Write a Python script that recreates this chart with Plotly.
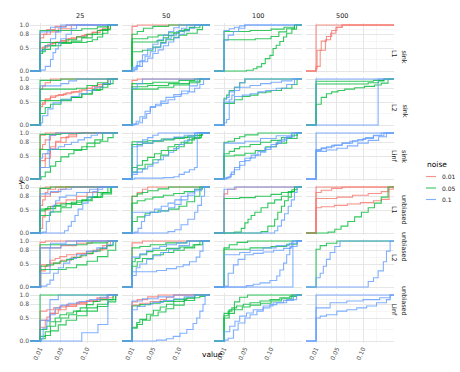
import plotly.graph_objects as go

# ---------------- data ----------------
NOISE_LEVELS = ["0.01", "0.05", "0.1"]
NOISE_COLORS = ["#F8766D", "#00BA38", "#619CFF"]
SIZES = ["25", "50", "100", "500"]
METHODS = ["sink", "unbiased"]
NORMS = ["L1", "L2", "Linf"]
X_BREAKS = [0.01, 0.05, 0.10]
X_LABELS = ["0.01", "0.05", "0.10"]
X_MINOR = [0.03, 0.075, 0.125]
Y_BREAKS = [0.0, 0.5, 0.8, 1.0]
Y_LABELS = ["0.0", "0.5", "0.8", "1.0"]
Y_MINOR = [0.25, 0.65, 0.9]

# each line: (noise, step x values, ECDF value after each step)
sink_L1_25 = [
    ("0.01", [.01, .023, .039, .06], [.80, .90, .97, 1]),
    ("0.01", [.01, .017, .03, .045, .07], [.72, .80, .85, .92, 1]),
    ("0.01", [.01, .02, .03, .04, .05, .06, .07, .08, .09, .10, .11, .12, .13, .145], [.50, .55, .60, .63, .66, .70, .72, .75, .77, .80, .84, .88, .93, 1]),
    ("0.01", [.01, .015, .025, .035, .05, .065, .08, .095, .11, .125, .14], [.45, .52, .58, .62, .65, .70, .74, .79, .84, .90, 1]),
    ("0.05", [.01, .09, .12, .14], [.88, .92, .96, 1]),
    ("0.05", [.01, .02, .04, .06, .08, .10, .12, .14], [.42, .55, .62, .68, .74, .80, .88, 1]),
    ("0.05", [.01, .015, .03, .05, .07, .09, .11, .13, .145], [.38, .47, .55, .60, .65, .72, .80, .90, 1]),
    ("0.05", [.01, .10, .11, .12, .13, .14], [.62, .64, .68, .74, .82, 1]),
    ("0.1", [.012, .02, .03, .035, .04, .045, .05, .06, .07, .08], [.02, .10, .25, .40, .48, .60, .70, .80, .92, 1]),
    ("0.1", [.01, .02, .03, .04, .05, .06], [.45, .55, .70, .85, .95, 1]),
    ("0.1", [.01, .03, .05], [.85, .95, 1]),
]
sink_L1_50 = [
    ("0.01", [.01, .02], [.97, 1]),
    ("0.05", [.01, .02, .032, .05, .08], [.80, .86, .93, .97, 1]),
    ("0.05", [.01, .058, .07, .08, .09, .10, .11, .12, .13], [.63, .66, .72, .77, .82, .86, .90, .95, 1]),
    ("0.05", [.01, .03, .05, .065, .075, .09, .10, .115, .135, .145], [.42, .45, .52, .62, .68, .73, .78, .82, .90, 1]),
    ("0.05", [.01, .04, .06, .08, .10, .12, .14], [.70, .74, .78, .83, .88, .94, 1]),
    ("0.1", [.015, .02, .03, .04, .05, .06, .07, .08, .09, .10, .11, .12, .13], [.03, .10, .20, .28, .38, .46, .55, .63, .72, .80, .87, .93, 1]),
    ("0.1", [.012, .018, .025, .035, .045, .055, .065, .075, .085, .095, .105, .115], [.05, .12, .22, .32, .42, .52, .60, .70, .78, .86, .93, 1]),
    ("0.1", [.01, .02, .03, .04, .05, .06, .07, .08, .09, .10], [.08, .20, .35, .48, .58, .68, .78, .86, .94, 1]),
]
sink_L1_100 = [
    ("0.05", [.01, .06, .10, .125, .145], [.86, .88, .91, .95, 1]),
    ("0.05", [.01, .07, .10, .115, .13, .145], [.68, .70, .75, .85, .92, 1]),
    ("0.05", [.053, .066, .073, .082, .089, .098, .104, .11, .117, .124, .13, .14, .149], [.015, .05, .09, .16, .27, .34, .49, .56, .64, .74, .82, .91, 1]),
    ("0.1", [.01, .02, .03, .04, .05], [.88, .92, .95, .98, 1]),
    ("0.1", [.01, .018, .028, .038, .05], [.67, .78, .86, .93, 1]),
]
sink_L1_500 = [
    ("0.01", [.01], [1]),
    ("0.01", [.01, .012, .02, .03, .04, .05, .06], [.05, .45, .65, .75, .88, .95, 1]),
    ("0.01", [.01, .018, .028, .038, .048, .06], [.10, .45, .68, .82, .95, 1]),
]
sink_L2_25 = [
    ("0.01", [.01, .015, .02, .03], [.78, .85, .92, 1]),
    ("0.01", [.01, .015, .02, .03, .045, .06, .075, .09, .10, .11, .13, .145], [.40, .48, .57, .63, .66, .70, .72, .76, .80, .84, .90, 1]),
    ("0.01", [.01, .02, .03, .04, .055, .07, .085, .10, .12, .14], [.45, .55, .60, .64, .68, .72, .76, .80, .88, 1]),
    ("0.05", [.01, .05], [.97, 1]),
    ("0.05", [.01, .08, .10, .12, .14], [.78, .80, .86, .92, 1]),
    ("0.05", [.01, .05, .07, .09, .11, .125, .14, .15], [.53, .56, .60, .67, .75, .82, .90, 1]),
    ("0.05", [.01, .02, .03, .05, .07, .09, .11, .13, .145], [.25, .38, .45, .53, .60, .68, .77, .88, 1]),
    ("0.1", [.012, .015, .025, .035, .05, .07, .085, .10, .115, .13, .145], [.05, .20, .35, .48, .55, .62, .68, .75, .82, .90, 1]),
    ("0.1", [.01, .05, .065, .08], [.85, .90, .96, 1]),
]
sink_L2_50 = [
    ("0.01", [.01, .02], [.97, 1]),
    ("0.05", [.01, .05, .10, .13], [.90, .93, .97, 1]),
    ("0.05", [.01, .04, .08, .12, .14], [.83, .86, .90, .95, 1]),
    ("0.05", [.01, .06, .09, .12, .14], [.78, .82, .87, .92, 1]),
    ("0.1", [.015, .022, .03, .038, .045, .055, .066, .079, .092, .104, .117, .13, .14, .147], [.02, .05, .15, .25, .38, .42, .47, .55, .62, .68, .72, .80, .88, 1]),
    ("0.1", [.012, .018, .025, .035, .045, .055, .065, .075, .09, .105, .12, .135], [.02, .08, .18, .30, .40, .45, .52, .60, .66, .74, .85, 1]),
    ("0.1", [.01, .02, .03], [.80, .90, 1]),
]
sink_L2_100 = [
    ("0.05", [.01, .015, .02, .03, .04, .05], [.58, .65, .75, .82, .92, 1]),
    ("0.05", [.01, .03, .045, .06, .075, .09, .10, .12, .14, .15], [.47, .55, .62, .65, .70, .72, .75, .80, .88, 1]),
    ("0.1", [.01, .015, .02, .025, .03, .04, .06, .08, .10, .12, .14], [.05, .12, .55, .65, .75, .82, .86, .90, .93, .96, 1]),
    ("0.1", [.01, .015, .02, .03, .04, .05], [.55, .60, .72, .82, .92, 1]),
    ("0.1", [.01, .03, .045, .06, .075, .09, .11, .13, .145], [.50, .62, .65, .68, .72, .75, .80, .88, 1]),
]
sink_L2_500 = [
    ("0.05", [.01, .12, .14], [.95, .97, 1]),
    ("0.05", [.01, .11, .13, .14], [.89, .92, .96, 1]),
    ("0.05", [.01, .02, .03, .04, .052, .065, .084, .103, .122, .135, .148], [.45, .60, .68, .72, .75, .78, .81, .84, .87, .91, 1]),
    ("0.1", [.01], [1]),
    ("0.1", [.129], [1]),
]
sink_Linf_25 = [
    ("0.01", [.01, .02], [.95, 1]),
    ("0.01", [.01, .015, .02, .03, .04], [.65, .75, .85, .95, 1]),
    ("0.01", [.01, .02, .03, .04, .05, .065, .08], [.40, .55, .70, .82, .90, .96, 1]),
    ("0.01", [.01, .02, .03, .04, .06, .08], [.25, .45, .65, .80, .92, 1]),
    ("0.05", [.01, .05, .09], [.97, .99, 1]),
    ("0.05", [.01, .10, .115, .13], [.64, .70, .85, 1]),
    ("0.05", [.012, .02, .03, .04, .05, .065, .075, .09, .10, .125, .14, .15], [.05, .15, .28, .38, .48, .55, .62, .70, .78, .82, .90, 1]),
    ("0.1", [.01, .015, .025, .03, .045, .057, .07, .083, .095, .108, .12], [.45, .55, .62, .65, .70, .75, .80, .85, .90, .95, 1]),
    ("0.1", [.01, .028, .04], [.25, .95, 1]),
]
sink_Linf_50 = [
    ("0.05", [.01, .04, .066, .092, .117, .143], [.81, .83, .87, .90, .94, 1]),
    ("0.05", [.01, .03, .05, .07, .09, .11, .13, .145], [.75, .78, .82, .85, .88, .91, .95, 1]),
    ("0.05", [.01, .02, .03, .04, .053, .066, .079, .092, .104, .117, .13, .143], [.25, .30, .40, .47, .55, .62, .70, .75, .80, .85, .90, 1]),
    ("0.05", [.01, .02, .035, .05, .065, .08, .095, .11, .125, .14], [.15, .22, .32, .42, .52, .62, .70, .78, .88, 1]),
    ("0.1", [.01, .02, .03, .04, .05, .06], [.70, .80, .85, .90, .95, 1]),
    ("0.1", [.01, .02, .03, .05, .07, .09, .11, .13], [.15, .72, .78, .83, .87, .91, .95, 1]),
    ("0.1", [.015, .07, .09, .10, .11, .12, .13, .135], [.02, .03, .05, .10, .15, .20, .25, 1]),
    ("0.1", [.01, .02, .03, .04, .05, .06, .07, .08, .09, .10, .11, .12, .13], [.10, .15, .22, .28, .35, .42, .50, .58, .66, .75, .83, .92, 1]),
]
sink_Linf_100 = [
    ("0.05", [.01, .018, .03, .04, .05, .075], [.80, .82, .88, .92, .96, 1]),
    ("0.05", [.01, .02, .03, .04, .06, .08, .10, .12, .14, .15], [.55, .60, .66, .70, .75, .80, .84, .90, .95, 1]),
    ("0.05", [.01, .03, .05, .07, .09, .11, .13, .15], [.50, .52, .56, .62, .70, .78, .88, 1]),
    ("0.1", [.012, .018, .024, .03, .04, .05, .062, .075, .088, .10, .113, .126, .139], [.02, .05, .15, .25, .38, .45, .52, .60, .68, .75, .82, .90, 1]),
    ("0.1", [.015, .022, .03, .04, .05, .06, .07, .08, .09, .10, .11, .12, .13, .145], [.03, .10, .20, .30, .40, .46, .52, .58, .64, .70, .78, .85, .92, 1]),
    ("0.1", [.01, .05, .08, .11, .14], [.78, .82, .88, .94, 1]),
]
sink_Linf_500 = [
    ("0.1", [.01], [1]),
    ("0.1", [.01, .02, .03, .045, .06, .075, .09, .105, .12, .135], [.62, .66, .70, .74, .78, .82, .86, .90, .95, 1]),
    ("0.1", [.01, .03, .05, .07, .09, .11, .13, .145], [.60, .63, .67, .72, .78, .84, .92, 1]),
    ("0.1", [.01, .02, .04, .06, .08, .10, .12, .14], [.64, .68, .73, .78, .83, .88, .94, 1]),
]
unbiased_L1_25 = [
    ("0.01", [.01, .02], [.97, 1]),
    ("0.01", [.01, .02, .025, .04], [.80, .88, .95, 1]),
    ("0.01", [.01, .015, .02, .03, .045, .06], [.60, .72, .80, .88, .95, 1]),
    ("0.01", [.01, .015, .02, .03, .04, .06, .08, .10, .12], [.10, .35, .50, .58, .65, .72, .80, .88, 1]),
    ("0.05", [.01, .03], [.97, 1]),
    ("0.05", [.01, .025, .038, .05, .07, .09, .108, .127, .147], [.52, .57, .60, .63, .67, .72, .78, .85, 1]),
    ("0.05", [.01, .02, .04, .06, .08, .10, .12, .14], [.48, .53, .58, .64, .70, .78, .88, 1]),
    ("0.05", [.01, .03, .05, .07, .09, .11, .13, .145], [.38, .46, .55, .62, .70, .78, .88, 1]),
    ("0.1", [.015, .022, .028, .035, .04, .047, .06, .08, .105, .13], [.02, .25, .45, .60, .70, .78, .82, .88, .95, 1]),
    ("0.1", [.057, .064, .07, .077, .083, .092, .102, .111, .121], [.05, .15, .25, .38, .52, .65, .78, .90, 1]),
    ("0.1", [.01, .03, .05, .07], [.85, .90, .95, 1]),
]
unbiased_L1_50 = [
    ("0.01", [.01, .02, .03, .04], [.80, .88, .95, 1]),
    ("0.05", [.01, .02, .03, .04, .06, .08], [.80, .85, .88, .92, .96, 1]),
    ("0.05", [.01, .02, .035, .05, .07, .09, .11, .13, .145], [.65, .70, .74, .78, .82, .86, .90, .95, 1]),
    ("0.05", [.01, .02, .035, .045, .06, .08, .10, .115, .13, .14], [.25, .35, .42, .45, .48, .52, .58, .68, .80, 1]),
    ("0.1", [.01, .065, .08, .092, .104, .117, .13, .143], [.45, .48, .55, .62, .72, .82, .92, 1]),
    ("0.1", [.015, .0215, .028, .034, .044, .053, .066, .079, .092, .104, .117, .13, .143], [.02, .10, .25, .38, .45, .52, .58, .65, .72, .80, .87, .95, 1]),
    ("0.1", [.079, .092, .104, .117, .13, .136, .143, .149], [.03, .07, .18, .30, .45, .60, .80, 1]),
]
unbiased_L1_100 = [
    ("0.01", [.01, .017, .033], [.85, .95, 1]),
    ("0.05", [.01, .04, .07, .10, .12, .14, .15], [.75, .77, .80, .84, .88, .94, 1]),
    ("0.05", [.03, .043, .05, .056, .062, .069, .081, .094, .107, .12, .133, .145], [.02, .10, .22, .30, .38, .45, .55, .65, .72, .80, .90, 1]),
    ("0.05", [.081, .094, .107, .113, .12, .126, .133, .139, .145], [.03, .15, .30, .45, .58, .70, .78, .90, 1]),
    ("0.1", [.107, .113, .12, .126, .133, .139, .145, .15], [.05, .15, .28, .42, .58, .72, .88, 1]),
    ("0.1", [.01, .03], [.95, 1]),
]
unbiased_L1_500 = [
    ("0.01", [.01], [1]),
    ("0.01", [.01, .02, .045, .07, .095, .12, .135, .15], [.55, .57, .60, .63, .66, .70, .73, 1]),
    ("0.01", [.01, .05, .08, .11, .135, .148, .158], [.75, .78, .82, .86, .90, .95, 1]),
    ("0.01", [.01, .02, .04, .06], [.88, .93, .97, 1]),
    ("0.05", [.033, .046, .058, .071, .084, .097, .11, .122, .135, .148], [.02, .08, .15, .25, .35, .45, .55, .65, .78, 1]),
]
unbiased_L2_25 = [
    ("0.01", [.01, .02], [.97, 1]),
    ("0.01", [.01, .05, .08, .11], [.85, .90, .95, 1]),
    ("0.01", [.012, .029, .039, .048, .061, .08, .099, .119, .138], [.48, .58, .62, .66, .70, .73, .77, .82, 1]),
    ("0.01", [.01, .02, .03, .05, .07, .09, .11, .13, .145], [.35, .45, .52, .58, .65, .72, .80, .90, 1]),
    ("0.05", [.01, .10, .14], [.92, .96, 1]),
    ("0.05", [.01, .023, .036, .048, .061, .074, .087, .099, .112, .125, .138, .15], [.45, .48, .52, .56, .60, .64, .68, .73, .78, .84, .90, 1]),
    ("0.05", [.01, .06, .08, .10, .12, .14, .155], [.38, .42, .48, .56, .66, .80, 1]),
    ("0.1", [.013, .023, .029, .036, .045, .055, .067, .08, .099, .119, .138, .15], [.02, .06, .15, .30, .42, .52, .62, .70, .78, .85, .92, 1]),
    ("0.1", [.01, .029, .05, .08], [.30, .85, .92, 1]),
    ("0.1", [.01, .03, .06], [.85, .95, 1]),
]
unbiased_L2_50 = [
    ("0.01", [.01, .03], [.96, 1]),
    ("0.05", [.01, .025, .045, .075, .115], [.85, .88, .92, .96, 1]),
    ("0.05", [.01, .016, .025, .038, .05, .076, .102, .127, .14], [.55, .62, .70, .77, .80, .84, .87, .92, 1]),
    ("0.05", [.01, .02, .03, .05, .07, .09, .11, .13, .145], [.45, .55, .62, .70, .75, .80, .85, .92, 1]),
    ("0.1", [.01, .057, .076, .095, .108, .12, .133, .14, .146], [.33, .36, .40, .44, .48, .55, .65, .78, 1]),
    ("0.1", [.01, .025, .038, .05, .063, .076, .095, .115], [.65, .72, .80, .84, .88, .92, .96, 1]),
    ("0.1", [.01, .018, .025, .038, .05, .065, .08, .10, .12], [.25, .42, .50, .60, .68, .75, .82, .90, 1]),
]
unbiased_L2_100 = [
    ("0.05", [.01, .02, .035, .055], [.85, .92, .97, 1]),
    ("0.05", [.01, .06, .10, .13, .15], [.82, .85, .88, .93, 1]),
    ("0.1", [.01, .018, .028, .037, .05, .066, .085, .105, .124, .137, .15], [.02, .30, .48, .60, .70, .73, .76, .80, .84, .88, 1]),
    ("0.1", [.053, .066, .079, .098, .111, .117, .124, .13, .136, .14], [.03, .06, .09, .14, .24, .37, .52, .70, .85, 1]),
    ("0.1", [.142], [1]),
    ("0.1", [.01, .04, .06, .085, .11, .135, .15], [.70, .75, .80, .85, .90, .95, 1]),
]
unbiased_L2_500 = [
    ("0.05", [.01, .018, .03, .05], [.82, .90, .95, 1]),
    ("0.1", [.11, .12, .129, .139, .145, .152], [.12, .20, .35, .55, .78, 1]),
    ("0.1", [.01, .018, .024, .03, .037, .046, .056], [.20, .30, .45, .60, .75, .88, 1]),
]
unbiased_Linf_25 = [
    ("0.01", [.01, .023, .036, .048, .061, .08, .099, .119, .138], [.65, .68, .72, .76, .80, .84, .88, .94, 1]),
    ("0.01", [.01, .023, .029, .039, .048, .061, .08, .099, .119, .138, .15], [.45, .52, .60, .68, .74, .78, .82, .86, .90, .94, 1]),
    ("0.01", [.01, .02, .03, .045, .06, .08, .10, .12, .14], [.30, .45, .60, .68, .75, .80, .86, .92, 1]),
    ("0.05", [.01], [1]),
    ("0.05", [.01, .023, .029, .039, .048, .061, .074, .087, .099, .112, .125, .15], [.25, .32, .42, .50, .57, .61, .65, .72, .79, .86, .90, 1]),
    ("0.05", [.01, .02, .03, .04, .05, .065, .08, .10, .12, .14, .155], [.10, .20, .32, .42, .50, .57, .65, .72, .80, .90, 1]),
    ("0.05", [.012, .02, .03, .045, .06, .08, .10, .12, .14, .155], [.05, .12, .22, .35, .45, .55, .65, .75, .85, 1]),
    ("0.1", [.012, .016, .023, .029, .039, .05, .065, .085, .105, .125, .14], [.05, .28, .43, .57, .72, .78, .82, .86, .90, .95, 1]),
    ("0.1", [.01, .029, .045], [.45, .90, 1]),
    ("0.1", [.09, .121, .14], [.18, .36, 1]),
]
unbiased_Linf_50 = [
    ("0.01", [.01, .025, .045, .064, .076, .09], [.78, .82, .86, .90, .95, 1]),
    ("0.01", [.01, .02, .04, .06], [.85, .90, .96, 1]),
    ("0.05", [.01, .025, .045, .064, .09, .115, .14, .15], [.76, .79, .82, .86, .90, .94, .97, 1]),
    ("0.05", [.01, .019, .025, .038, .051, .064, .076, .09, .11, .13], [.30, .40, .47, .58, .67, .74, .80, .86, .93, 1]),
    ("0.05", [.01, .02, .03, .045, .06, .075, .09, .11, .13], [.28, .36, .45, .55, .63, .70, .78, .88, 1]),
    ("0.1", [.01, .03, .06, .09], [.87, .92, .96, 1]),
    ("0.1", [.01, .02, .035, .05, .07, .09, .11, .13], [.68, .75, .80, .84, .88, .92, .96, 1]),
    ("0.1", [.057, .076, .089, .102, .115, .127, .134, .14, .146, .15], [.02, .05, .10, .17, .25, .38, .50, .65, .80, 1]),
]
unbiased_Linf_100 = [
    ("0.05", [.01, .018, .025, .034, .047, .06, .079, .098, .117, .136, .149], [.55, .65, .72, .76, .80, .83, .87, .90, .94, .97, 1]),
    ("0.05", [.01, .02, .03, .045, .06, .08, .10, .12, .14], [.50, .60, .68, .74, .78, .82, .87, .92, 1]),
    ("0.05", [.01, .02, .03, .04, .055], [.60, .68, .85, .95, 1]),
    ("0.1", [.012, .018, .028, .037, .05, .06, .073, .085, .098, .111, .13, .149], [.02, .06, .24, .39, .50, .57, .65, .72, .79, .83, .90, 1]),
    ("0.1", [.01, .021, .031, .04, .053, .066, .085, .104, .124, .143], [.20, .32, .43, .54, .61, .68, .76, .83, .88, 1]),
]
unbiased_Linf_500 = [
    ("0.1", [.01], [1]),
    ("0.1", [.01, .018, .03, .05, .069, .088, .107, .126, .145, .152], [.50, .54, .57, .65, .68, .72, .76, .83, .90, 1]),
    ("0.1", [.01, .037, .069, .1, .132, .152], [.72, .83, .87, .9, .94, 1]),
]

PANELS = {
    ("sink", "L1"): [sink_L1_25, sink_L1_50, sink_L1_100, sink_L1_500],
    ("sink", "L2"): [sink_L2_25, sink_L2_50, sink_L2_100, sink_L2_500],
    ("sink", "Linf"): [sink_Linf_25, sink_Linf_50, sink_Linf_100, sink_Linf_500],
    ("unbiased", "L1"): [unbiased_L1_25, unbiased_L1_50, unbiased_L1_100, unbiased_L1_500],
    ("unbiased", "L2"): [unbiased_L2_25, unbiased_L2_50, unbiased_L2_100, unbiased_L2_500],
    ("unbiased", "Linf"): [unbiased_Linf_25, unbiased_Linf_50, unbiased_Linf_100, unbiased_Linf_500],
}
ROWS = [(m, n) for m in METHODS for n in NORMS]

# ---------------- layout constants ----------------
W, H = 460, 372
X_RANGE = [-0.0092, 0.1594]
Y_RANGE = [-0.05, 1.05]
X_PAD = (-1.0, 1.0)   # ECDF padding to -Inf / +Inf
COL_LEFT = [30, 122, 214, 306]
PANEL_W = 88
ROW_TOP = [22.7 + 54 * r for r in range(6)]
PANEL_H = 50.6
FONT = "DejaVu Sans"
TICK_COLOR = "#4D4D4D"
GRID = "#E6E6E6"
GRID_MINOR = "#F0F0F0"

def px(x):
    return x / W

def py(y):
    return 1 - y / H

fig = go.Figure()
layout = dict(
    width=W, height=H, autosize=False,
    margin=dict(l=0, r=0, t=0, b=0),
    paper_bgcolor="white", plot_bgcolor="white",
    showlegend=False,
    font=dict(family=FONT, size=6, color=TICK_COLOR),
)

color_of = dict(zip(NOISE_LEVELS, NOISE_COLORS))
order_of = {n: i for i, n in enumerate(NOISE_LEVELS)}

for r, key in enumerate(ROWS):
    for c, size in enumerate(SIZES):
        k = r * 4 + c + 1
        xa = "x" if k == 1 else f"x{k}"
        ya = "y" if k == 1 else f"y{k}"
        lines = sorted(PANELS[key][c], key=lambda t: order_of[t[0]])
        for noise, xs, ys in lines:
            fig.add_trace(go.Scatter(
                x=[X_PAD[0]] + list(xs) + [X_PAD[1]],
                y=[0] + list(ys) + [1],
                mode="lines",
                line=dict(color=color_of[noise], width=1.1, shape="hv"),
                opacity=0.8,
                xaxis=xa, yaxis=ya,
                hoverinfo="skip", showlegend=False,
            ))
        x0 = COL_LEFT[c]
        y0 = ROW_TOP[r]
        layout["xaxis" if k == 1 else f"xaxis{k}"] = dict(
            domain=[px(x0), px(x0 + PANEL_W)], anchor=ya, range=X_RANGE,
            tickvals=X_BREAKS, ticktext=X_LABELS,
            showticklabels=(r == 5), tickangle=-65,
            tickfont=dict(size=6, color=TICK_COLOR, family=FONT),
            ticks="", showline=False, zeroline=False,
            showgrid=True, gridcolor=GRID, gridwidth=1,
            minor=dict(tickvals=X_MINOR, showgrid=True, gridcolor=GRID_MINOR, gridwidth=0.6, ticks=""),
            automargin=False, fixedrange=True,
        )
        layout["yaxis" if k == 1 else f"yaxis{k}"] = dict(
            domain=[py(y0 + PANEL_H), py(y0)], anchor=xa, range=Y_RANGE,
            tickvals=Y_BREAKS, ticktext=Y_LABELS,
            showticklabels=(c == 0),
            tickfont=dict(size=6, color=TICK_COLOR, family=FONT),
            ticks="", showline=False, zeroline=False,
            showgrid=True, gridcolor=GRID, gridwidth=1,
            minor=dict(tickvals=Y_MINOR, showgrid=True, gridcolor=GRID_MINOR, gridwidth=0.6, ticks=""),
            automargin=False, fixedrange=True,
        )

annotations = []
for c, size in enumerate(SIZES):
    annotations.append(dict(text=size, x=px(COL_LEFT[c] + PANEL_W / 2), y=py(16),
                            xref="paper", yref="paper", showarrow=False, yanchor="middle",
                            font=dict(size=6.5, color="#1A1A1A", family=FONT)))
for r, (method, norm) in enumerate(ROWS):
    yc = py(ROW_TOP[r] + PANEL_H / 2)
    annotations.append(dict(text=norm, x=px(400), y=yc, xref="paper", yref="paper",
                            showarrow=False, textangle=90,
                            font=dict(size=6.5, color="#1A1A1A", family=FONT)))
    annotations.append(dict(text=method, x=px(410), y=yc, xref="paper", yref="paper",
                            showarrow=False, textangle=90,
                            font=dict(size=6.5, color="#1A1A1A", family=FONT)))

annotations.append(dict(text="value", x=px(212), y=py(361), xref="paper", yref="paper",
                        showarrow=False, font=dict(size=7.5, color="#000000", family=FONT)))
annotations.append(dict(text="y", x=px(13), y=py(182), xref="paper", yref="paper",
                        showarrow=False, textangle=-90, font=dict(size=7.5, color="#000000", family=FONT)))

# legend
annotations.append(dict(text="noise", x=px(425), y=py(164), xref="paper", yref="paper",
                        xanchor="left", showarrow=False, font=dict(size=7.5, color="#000000", family=FONT)))
shapes = []
for i, (lvl, col) in enumerate(zip(NOISE_LEVELS, NOISE_COLORS)):
    yy = 176.5 + 11.5 * i
    shapes.append(dict(type="line", xref="paper", yref="paper",
                       x0=px(426), x1=px(436), y0=py(yy), y1=py(yy),
                       line=dict(color=col, width=1.1), opacity=0.8))
    annotations.append(dict(text=lvl, x=px(440), y=py(yy), xref="paper", yref="paper",
                            xanchor="left", showarrow=False,
                            font=dict(size=6, color="#1A1A1A", family=FONT)))

layout["annotations"] = annotations
layout["shapes"] = shapes
fig.update_layout(**layout)
fig.write_html("out.html",
               config={"displayModeBar": False, "staticPlot": True},
               post_script="document.body.style.margin='0px';document.body.style.padding='0px';document.body.style.overflow='hidden';")
